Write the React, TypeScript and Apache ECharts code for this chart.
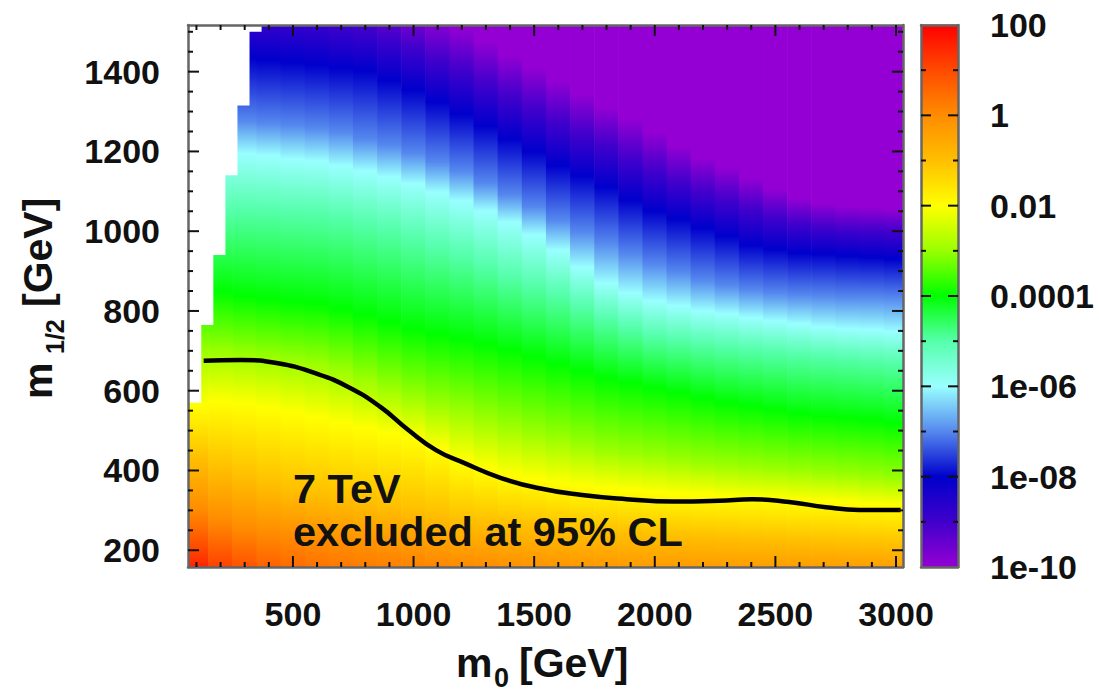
import { useEffect, useRef } from 'react';
import * as echarts from 'echarts';

// ---------- data ----------
// heat-map columns (m0 centre, GeV); each column is 100 GeV wide
const m0Columns = [100, 200, 300, 400, 500, 600, 700, 800, 900, 1000, 1100, 1200, 1300, 1400, 1500,
  1600, 1700, 1800, 1900, 2000, 2100, 2200, 2300, 2400, 2500, 2600, 2700, 2800, 2900, 3000];

// decades of the colour scale (log10 of the plotted quantity)
const logLevels = [2, 1, 0, -1, -2, -3, -4, -5, -6, -7, -8, -9, -10];

// m1/2 (GeV) at which each column crosses the given decade
const m12AtLogP2 = [113, 75, 40, 0, -30, -60, -90, -110, -130, -150, -160, -170, -180, -190, -200, -200, -200, -200, -200, -200, -200, -200, -200, -200, -200, -200, -200, -200, -200, -200];
const m12AtLogP1 = [206, 171, 143, 113, 83, 55, 30, 20, 10, 0, -10, -20, -30, -40, -50, -55, -60, -65, -70, -75, -80, -80, -80, -80, -80, -80, -80, -80, -80, -80];
const m12AtLog0 = [301, 276, 256, 243, 236, 223, 213, 203, 193, 183, 173, 163, 156, 148, 141, 136, 131, 128, 126, 126, 126, 126, 124, 124, 124, 126, 126, 126, 126, 126];
const m12AtLogM1 = [431, 406, 386, 366, 351, 341, 331, 321, 311, 301, 291, 276, 271, 266, 261, 256, 251, 248, 243, 238, 236, 233, 231, 228, 226, 223, 221, 218, 216, 213];
const m12AtLogM2 = [564, 572, 567, 557, 544, 532, 519, 507, 494, 482, 457, 426, 406, 389, 379, 369, 361, 356, 351, 346, 341, 339, 334, 331, 329, 326, 324, 321, 316, 314];
const m12AtLogM3 = [702, 700, 692, 685, 677, 670, 655, 632, 609, 587, 567, 552, 532, 514, 497, 482, 467, 452, 444, 437, 429, 421, 416, 411, 406, 401, 396, 391, 386, 381];
const m12AtLogM4 = [853, 848, 838, 830, 823, 818, 805, 790, 773, 755, 742, 730, 717, 702, 685, 667, 650, 632, 620, 607, 595, 582, 570, 562, 552, 542, 537, 532, 527, 519];
const m12AtLogM5 = [1043, 1048, 1053, 1051, 1046, 1043, 1033, 1018, 1003, 981, 958, 938, 913, 885, 863, 840, 810, 780, 757, 737, 727, 717, 710, 702, 697, 690, 685, 680, 675, 670];
const m12AtLogM6 = [1204, 1199, 1194, 1189, 1181, 1176, 1164, 1151, 1136, 1119, 1098, 1076, 1051, 1023, 991, 953, 910, 870, 845, 825, 813, 800, 793, 783, 775, 768, 760, 755, 753, 748];
const m12AtLogM7 = [1284, 1279, 1277, 1271, 1266, 1259, 1249, 1231, 1216, 1196, 1174, 1151, 1121, 1091, 1061, 1028, 998, 971, 943, 918, 898, 878, 865, 853, 845, 840, 838, 835, 835, 833];
const m12AtLogM8 = [1442, 1440, 1434, 1429, 1424, 1417, 1409, 1402, 1379, 1354, 1324, 1294, 1264, 1231, 1199, 1164, 1139, 1111, 1078, 1051, 1031, 1008, 988, 965, 955, 945, 943, 938, 935, 930];
const m12AtLogM9 = [1550, 1547, 1545, 1540, 1537, 1532, 1517, 1507, 1485, 1460, 1429, 1402, 1369, 1337, 1304, 1272, 1241, 1214, 1179, 1149, 1121, 1096, 1076, 1053, 1033, 1018, 1008, 1003, 1000, 998];
const m12AtLogM10 = [1668, 1660, 1655, 1650, 1640, 1633, 1615, 1598, 1580, 1560, 1535, 1510, 1477, 1442, 1412, 1379, 1344, 1312, 1282, 1249, 1214, 1184, 1161, 1134, 1106, 1083, 1071, 1063, 1060, 1056];

// region without a value (white steps in the upper left)
const whiteEdgeM0 = [370, 320, 270, 220, 170, 120];
const whiteEdgeM12 = [1500, 1315, 1140, 940, 765, 570];

// 95% CL exclusion contour (7 TeV)
const contourM0 = [130, 284, 438, 592, 727, 861, 977, 1093, 1209, 1363, 1516, 1690, 1883, 2076, 2266, 2403, 2557, 2710, 2847, 3019];
const contourM12 = [675, 677, 669, 644, 610, 560, 502, 451, 419, 381, 356, 339, 328, 322, 324, 328, 321, 308, 301, 301];

// axis ticks / labels
const xMajorTicks = [500, 1000, 1500, 2000, 2500, 3000];
const xMinorTicks = [100, 200, 300, 400, 600, 700, 800, 900, 1100, 1200, 1300, 1400, 1600, 1700, 1800, 1900,
  2100, 2200, 2300, 2400, 2600, 2700, 2800, 2900];
const yMajorTicks = [200, 400, 600, 800, 1000, 1200, 1400];
const yMinorTicks = [250, 300, 350, 450, 500, 550, 650, 700, 750, 850, 900, 950, 1050, 1100, 1150, 1250,
  1300, 1350, 1450, 1500];
const colorbarTickValues = [-10, -8, -6, -4, -2, 0, 2];
const colorbarTickLabels = ['1e-10', '1e-08', '1e-06', '0.0001', '0.01', '1', '100'];
const colorbarMinorValues = [-9, -7, -5, -3, -1, 1];

// ---------- styling ----------
const levelColors = ['#ff0000', '#ff4a00', '#ff8c00', '#ffbf00', '#ffff00', '#99ff00', '#00ff00',
  '#55ffaa', '#99ffff', '#5588ee', '#0000cc', '#4000cc', '#9400d3'];
const X_MIN = 65, X_MAX = 3029, Y_MIN = 158, Y_MAX = 1517;
const FONT = '"Liberation Sans", Arial, Helvetica, sans-serif';
const TICK_COLOR = '#111111';
const FRAME_COLOR = '#666';

const colorOf = (lv: number) => levelColors[logLevels.indexOf(lv)];
const titleFont = (size: number) => `bold ${size}px ${FONT}`;

const textElements = [
  { type: 'text', x: 293, y: 488, z: 100, style: { text: '7 TeV', font: titleFont(41.5), fill: '#111', align: 'left', verticalAlign: 'middle' } },
  { type: 'text', x: 293, y: 531, z: 100, style: { text: 'excluded at 95% CL', font: titleFont(41.5), fill: '#111', align: 'left', verticalAlign: 'middle' } },
  // x-axis title  m_0 [GeV]
  { type: 'text', x: 456, y: 663, z: 100, style: { text: 'm', font: titleFont(41), fill: '#111', align: 'left', verticalAlign: 'middle' } },
  { type: 'text', x: 494, y: 678, z: 100, style: { text: '0', font: titleFont(27), fill: '#111', align: 'left', verticalAlign: 'middle' } },
  { type: 'text', x: 519, y: 663, z: 100, style: { text: '[GeV]', font: titleFont(41), fill: '#111', align: 'left', verticalAlign: 'middle' } },
  // y-axis title  m_1/2 [GeV]
  { type: 'text', x: 38, y: 399, rotation: Math.PI / 2, z: 100, style: { text: 'm', font: titleFont(41), fill: '#111', align: 'left', verticalAlign: 'middle' } },
  { type: 'text', x: 55, y: 354, rotation: Math.PI / 2, z: 100, style: { text: '1/2', font: titleFont(25), fill: '#111', align: 'left', verticalAlign: 'middle' } },
  { type: 'text', x: 38, y: 307, rotation: Math.PI / 2, z: 100, style: { text: '[GeV]', font: titleFont(41), fill: '#111', align: 'left', verticalAlign: 'middle' } },
];

function buildOption() {
  const crossings = [m12AtLogP2, m12AtLogP1, m12AtLog0, m12AtLogM1, m12AtLogM2, m12AtLogM3, m12AtLogM4,
    m12AtLogM5, m12AtLogM6, m12AtLogM7, m12AtLogM8, m12AtLogM9, m12AtLogM10];
  const last = logLevels.length - 1;
  const half = (m0Columns[1] - m0Columns[0]) / 2;

  const bandData: number[][] = [];
  m0Columns.forEach((m0, i) => {
    bandData.push([m0, -2000, crossings[0][i], logLevels[0], logLevels[0]]);
    for (let k = 0; k < last; k++) {
      bandData.push([m0, crossings[k][i], crossings[k + 1][i], logLevels[k], logLevels[k + 1]]);
    }
    bandData.push([m0, crossings[last][i], 5000, logLevels[last], logLevels[last]]);
  });

  const colorbarData: number[][] = [];
  for (let k = 0; k < last; k++) colorbarData.push([logLevels[k + 1], logLevels[k]]);

  const frameLine = { show: true, onZero: false, lineStyle: { color: FRAME_COLOR, width: 2.5 } };
  const labelStyle = { fontSize: 34, fontWeight: 'bold', fontFamily: FONT, color: '#111' };

  const mainX = (position: string, withLabel: boolean) => ({
    type: 'value', gridIndex: 0, position, min: X_MIN, max: X_MAX, z: 10,
    splitLine: { show: false },
    axisLine: frameLine,
    axisTick: { show: false },
    axisLabel: withLabel ? {
      show: true, customValues: xMajorTicks, margin: 30, ...labelStyle, formatter: (v: number) => String(v),
    } : { show: false },
  });
  const mainY = (position: string, withLabel: boolean) => ({
    type: 'value', gridIndex: 0, position, min: Y_MIN, max: Y_MAX, z: 10,
    splitLine: { show: false },
    axisLine: frameLine,
    axisTick: { show: false },
    axisLabel: withLabel ? {
      show: true, customValues: yMajorTicks, margin: 28, ...labelStyle, formatter: (v: number) => String(v),
    } : { show: false },
  });
  const cbY = (position: string, withLabel: boolean) => ({
    type: 'value', gridIndex: 1, position, min: -10, max: 2, interval: 2, z: 10,
    splitLine: { show: false },
    axisLine: frameLine,
    axisTick: { show: false },
    axisLabel: withLabel ? {
      show: true, margin: 32, ...labelStyle,
      formatter: (v: number) => colorbarTickLabels[colorbarTickValues.indexOf(Math.round(v))] ?? '',
    } : { show: false },
  });
  const cbX = (position: string) => ({
    type: 'value', gridIndex: 1, position, min: 0, max: 1, z: 10,
    splitLine: { show: false }, axisLine: frameLine,
    axisTick: { show: false }, axisLabel: { show: false },
  });

  const renderBand = (params: any, api: any) => {
    const m0 = api.value(0), lo = api.value(1), hi = api.value(2);
    const la = api.value(3), lb = api.value(4);
    const pTL = api.coord([m0 - half, hi]);
    const pBR = api.coord([m0 + half, lo]);
    const cs = params.coordSys;
    const rect = { x: pTL[0] - 0.3, y: pTL[1] - 0.5, width: pBR[0] - pTL[0] + 0.6, height: pBR[1] - pTL[1] + 1 };
    const clipped = echarts.graphic.clipRectByRect(rect, { x: cs.x, y: cs.y, width: cs.width, height: cs.height });
    if (!clipped || clipped.width <= 0 || clipped.height <= 0) return null;
    const fill = la === lb ? colorOf(la) : new echarts.graphic.LinearGradient(0, pBR[1], 0, pTL[1], [
      { offset: 0, color: colorOf(la) }, { offset: 1, color: colorOf(lb) }], true);
    return { type: 'rect', shape: clipped, style: { fill } };
  };

  const renderWhite = (_params: any, api: any) => {
    const pts: number[][] = [[X_MIN, Y_MAX], [whiteEdgeM0[0], Y_MAX]];
    for (let i = 0; i < whiteEdgeM0.length; i++) {
      pts.push([whiteEdgeM0[i], whiteEdgeM12[i]]);
      const nextX = i + 1 < whiteEdgeM0.length ? whiteEdgeM0[i + 1] : X_MIN;
      pts.push([nextX, whiteEdgeM12[i]]);
    }
    return { type: 'polygon', shape: { points: pts.map((p) => api.coord(p)) }, style: { fill: '#ffffff' } };
  };

  const renderColorbar = (_params: any, api: any) => {
    const lo = api.value(0), hi = api.value(1);
    const pT = api.coord([0, hi]);
    const pB = api.coord([1, lo]);
    const fill = new echarts.graphic.LinearGradient(0, pB[1], 0, pT[1], [
      { offset: 0, color: colorOf(lo) }, { offset: 1, color: colorOf(hi) }], true);
    return { type: 'rect', shape: { x: pT[0], y: pT[1] - 0.5, width: pB[0] - pT[0], height: pB[1] - pT[1] + 1 }, style: { fill } };
  };

  return {
    animation: false,
    backgroundColor: '#ffffff',
    textStyle: { fontFamily: FONT },
    grid: [
      { left: 188, top: 25, width: 715, height: 542, containLabel: false, outerBoundsMode: 'none' },
      { left: 921, top: 25, width: 37, height: 542, containLabel: false, outerBoundsMode: 'none' },
    ],
    xAxis: [
      mainX('bottom', true),
      mainX('top', false),
      cbX('bottom'),
      cbX('top'),
    ],
    yAxis: [
      mainY('left', true),
      mainY('right', false),
      cbY('left', false),
      cbY('right', true),
    ],
    series: [
      { type: 'custom', name: 'map', xAxisIndex: 0, yAxisIndex: 0, z: 1, data: bandData, renderItem: renderBand, silent: true },
      { type: 'custom', name: 'nodata', xAxisIndex: 0, yAxisIndex: 0, z: 2, data: [[X_MIN, Y_MAX]], renderItem: renderWhite, silent: true },
      {
        type: 'line', name: 'contour', xAxisIndex: 0, yAxisIndex: 0, z: 3, smooth: 0.5, symbol: 'none',
        lineStyle: { color: '#000', width: 4.5 },
        data: contourM0.map((m0, i) => [m0, contourM12[i]]),
      },
      { type: 'custom', name: 'colorbar', xAxisIndex: 2, yAxisIndex: 2, z: 1, data: colorbarData, renderItem: renderColorbar, silent: true },
    ],
    graphic: { elements: textElements },
  };
}

// inside ticks on all four sides, positioned through the chart's own axis scales
function buildTickElements(chart: any) {
  const els: any[] = [];
  const line = (x1: number, y1: number, x2: number, y2: number) => ({
    type: 'line', z: 90, silent: true, shape: { x1, y1, x2, y2 }, style: { stroke: TICK_COLOR, lineWidth: 2 },
  });
  const px = (finder: any, v: number[]) => chart.convertToPixel(finder, v) as number[];

  const mainBL = px({ gridIndex: 0 }, [X_MIN, Y_MIN]);
  const mainTR = px({ gridIndex: 0 }, [X_MAX, Y_MAX]);
  const addX = (values: number[], len: number) => values.forEach((v) => {
    const x = px({ gridIndex: 0 }, [v, Y_MIN])[0];
    els.push(line(x, mainBL[1], x, mainBL[1] - len));
    els.push(line(x, mainTR[1], x, mainTR[1] + len));
  });
  const addY = (values: number[], len: number, grid: number, xl: number, xr: number, xRef: number) => values.forEach((v) => {
    const y = px({ gridIndex: grid }, [xRef, v])[1];
    els.push(line(xl, y, xl + len, y));
    els.push(line(xr, y, xr - len, y));
  });
  addX(xMajorTicks, 11);
  addX(xMinorTicks, 5);
  addY(yMajorTicks, 11, 0, mainBL[0], mainTR[0], X_MIN);
  addY(yMinorTicks, 5, 0, mainBL[0], mainTR[0], X_MIN);

  const cbBL = px({ gridIndex: 1 }, [0, -10]);
  const cbTR = px({ gridIndex: 1 }, [1, 2]);
  addY(colorbarTickValues.slice(1, -1), 10, 1, cbBL[0], cbTR[0], 0.5);
  addY(colorbarMinorValues, 5, 1, cbBL[0], cbTR[0], 0.5);
  return els.filter((e) => [e.shape.x1, e.shape.y1, e.shape.x2, e.shape.y2].every((n: number) => Number.isFinite(n)));
}

export default function App() {
  const ref = useRef<HTMLDivElement>(null);
  useEffect(() => {
    if (!ref.current) return;
    const chart = echarts.init(ref.current, undefined, { renderer: 'svg' });
    chart.setOption(buildOption() as any);
    const ticks = buildTickElements(chart);
    chart.setOption({ graphic: { elements: [...textElements, ...ticks] } } as any);
    return () => chart.dispose();
  }, []);
  return (
    <div
      ref={ref}
      style={{ position: 'fixed', left: 0, top: 0, width: 1099, height: 693, background: '#ffffff' }}
    />
  );
}
